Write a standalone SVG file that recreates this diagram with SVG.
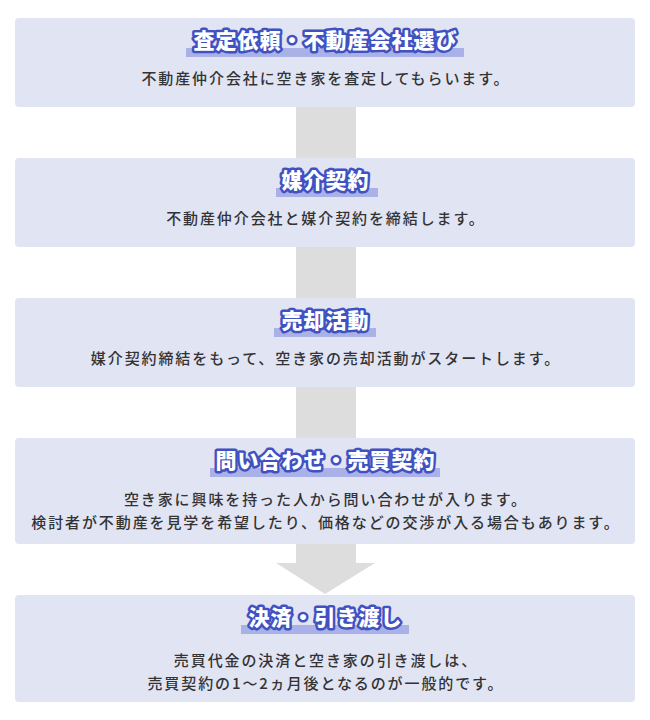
<svg xmlns="http://www.w3.org/2000/svg" width="650" height="720" viewBox="0 0 650 720">
<style>
.box{fill:#e1e4f3}
.conn{fill:#dddddd}
.hl{fill:#a9b1e6}
.title{font-family:"Noto Sans CJK JP","Noto Sans",sans-serif;font-size:21px;font-weight:900;fill:#ffffff;stroke:#4051c2;stroke-width:5;stroke-linejoin:round;paint-order:stroke;letter-spacing:1px;text-anchor:middle}
.body{font-family:"Noto Sans CJK JP","Noto Sans",sans-serif;font-size:15px;font-weight:500;fill:#333333;letter-spacing:1.9px;text-anchor:middle}
</style>
<rect width="650" height="720" fill="#ffffff"/>
<g id="connectors">
<rect class="conn" x="296" y="107" width="60" height="51"/>
<rect class="conn" x="296" y="247" width="60" height="51"/>
<rect class="conn" x="296" y="387" width="60" height="51"/>
<path class="conn" d="M296,544 H356 V563 H375 L325,594 L276,563 H296 Z"/>
</g>
<g id="node1">
<rect class="box" x="15" y="18" width="620" height="89" rx="4"/>
<rect class="hl" x="186" y="48" width="278" height="9"/>
<text class="title" x="325.5" y="48">査定依頼・不動産会社選び</text>
<text class="body" x="325.95" y="84">不動産仲介会社に空き家を査定してもらいます。</text>
</g>
<g id="node2">
<rect class="box" x="15" y="158" width="620" height="89" rx="4"/>
<rect class="hl" x="276" y="188" width="102" height="9"/>
<text class="title" x="325.5" y="188">媒介契約</text>
<text class="body" x="325.95" y="224">不動産仲介会社と媒介契約を締結します。</text>
</g>
<g id="node3">
<rect class="box" x="15" y="298" width="620" height="89" rx="4"/>
<rect class="hl" x="274" y="328" width="102" height="9"/>
<text class="title" x="325.5" y="328">売却活動</text>
<text class="body" x="325.95" y="364">媒介契約締結をもって、空き家の売却活動がスタートします。</text>
</g>
<g id="node4">
<rect class="box" x="15" y="438" width="620" height="106" rx="4"/>
<rect class="hl" x="210" y="468" width="230" height="9"/>
<text class="title" x="325.5" y="468">問い合わせ・売買契約</text>
<text class="body" x="325.95" y="505">空き家に興味を持った人から問い合わせが入ります。</text>
<text class="body" x="325.95" y="528">検討者が不動産を見学を希望したり、価格などの交渉が入る場合もあります。</text>
</g>
<g id="node5">
<rect class="box" x="15" y="595" width="620" height="107" rx="4"/>
<rect class="hl" x="241" y="625" width="168" height="9"/>
<text class="title" x="325.5" y="625">決済・引き渡し</text>
<text class="body" x="325.95" y="666">売買代金の決済と空き家の引き渡しは、</text>
<text class="body" x="325.95" y="689">売買契約の1〜2ヵ月後となるのが一般的です。</text>
</g>
</svg>
